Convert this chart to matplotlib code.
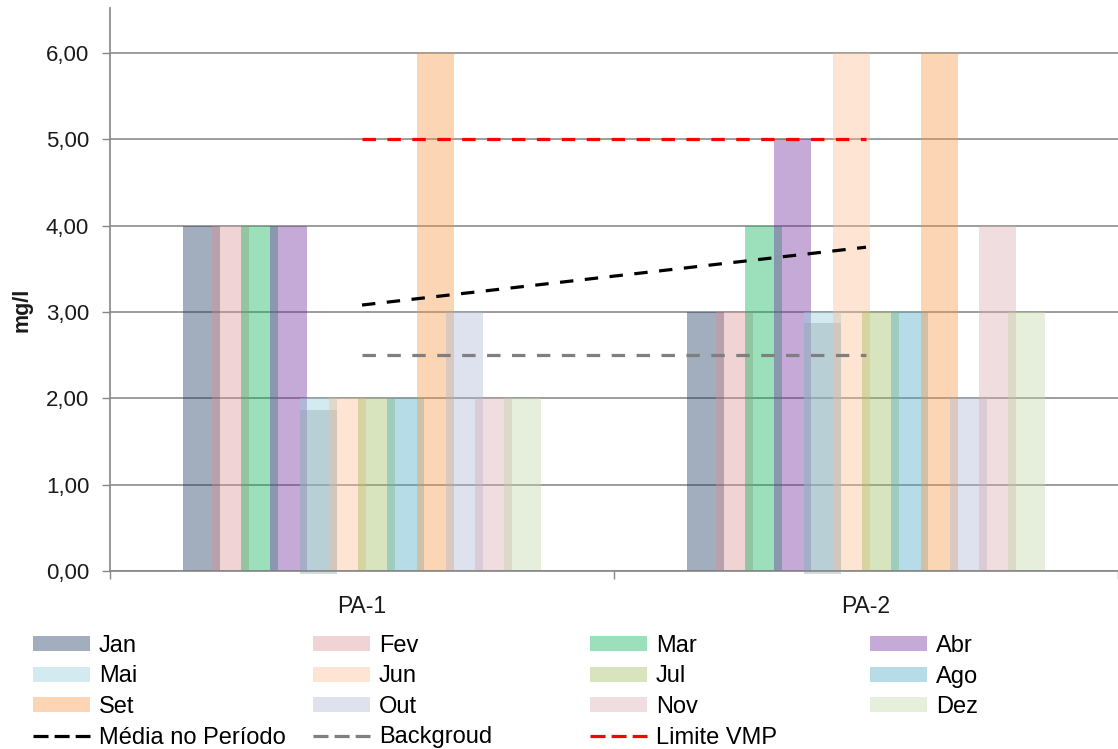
import matplotlib
matplotlib.use("Agg")
import matplotlib.pyplot as plt
from matplotlib.patches import Patch
from matplotlib.lines import Line2D
from matplotlib.ticker import FuncFormatter, FixedLocator
import numpy as np

plt.rcParams['font.family'] = ['Liberation Sans', 'DejaVu Sans']

# ---------------- data ----------------
categories = ["PA-1", "PA-2"]
months = ["Jan", "Fev", "Mar", "Abr", "Mai", "Jun", "Jul", "Ago", "Set", "Out", "Nov", "Dez"]
pa1 = [4, 4, 4, 4, 2, 2, 2, 2, 6, 3, 2, 2]
pa2 = [3, 3, 4, 5, 3, 6, 3, 3, 6, 2, 4, 3]
media = [3.08, 3.75]
background = [2.5, 2.5]
limite_vmp = [5.0, 5.0]
y_ticks = [0, 1, 2, 3, 4, 5, 6]

# displayed (on white) colours of each month
month_colors = ["#a2adbd", "#f0d3d4", "#9be0bb", "#c5aad8", "#d3ebf0", "#fde4d3",
                "#d8e4bd", "#b6dde7", "#fcd5b4", "#dde2ee", "#efdde0", "#e6eedc"]
mai_shadow_display = "#b9cfd6"

ALPHA = 0.4

def to_rgb(h):
    h = h.lstrip('#')
    return np.array([int(h[i:i + 2], 16) for i in (0, 2, 4)], dtype=float)

def true_color(display_hex, under=None):
    d = to_rgb(display_hex)
    u = np.array([255.0, 255.0, 255.0]) if under is None else under
    c = (d - (1 - ALPHA) * u) / ALPHA
    return tuple(np.clip(c, 0, 255) / 255.0)

values = np.array([pa1, pa2], dtype=float)

fig = plt.figure(figsize=(11.18, 7.49), dpi=100)
ax = fig.add_axes([110 / 1118, 178 / 749, 1008 / 1118, 563 / 749])

step = 0.058
width = 0.0733
start = -(11 * step + width) / 2
cat_x = np.arange(len(categories))

for ci, cx in enumerate(cat_x):
    for mi, m in enumerate(months):
        left = cx + start + mi * step
        v = values[ci, mi]
        ax.bar(left, v, width=width, align='edge', color=true_color(month_colors[mi]),
               alpha=ALPHA, linewidth=0, zorder=2)
        if m == "Mai":
            shadow = true_color(mai_shadow_display, under=to_rgb(month_colors[mi]))
            ax.bar(left, v - 0.09, bottom=-0.04, width=width, align='edge',
                   color=shadow, alpha=ALPHA, linewidth=0, zorder=2, clip_on=False)

# lines
dash_lw = 2.3
ax.plot(cat_x, media, color='black', lw=dash_lw, dashes=(4.2, 3.6), zorder=4,
        dash_capstyle='butt')
ax.plot(cat_x, background, color='#7f7f7f', lw=dash_lw, dashes=(4.2, 3.6), zorder=4,
        dash_capstyle='butt')
ax.plot(cat_x, limite_vmp, color='#ff0000', lw=dash_lw, dashes=(4.2, 3.6), zorder=4,
        dash_capstyle='butt')

# axes styling
ax.set_xlim(-0.5, 1.5)
ax.set_ylim(0, 6.52)
ax.yaxis.set_major_locator(FixedLocator(y_ticks))
ax.yaxis.set_major_formatter(FuncFormatter(lambda v, p: f"{v:.2f}".replace('.', ',')))
ax.set_xticks(cat_x)
ax.set_xticklabels(categories)
ax.set_xticks([-0.5, 0.5, 1.5], minor=True)
ax.tick_params(axis='x', which='major', length=0, pad=17, labelsize=16.5, labelcolor='#1a1a1a')
ax.tick_params(axis='x', which='minor', length=6, width=1, color='#868686')
ax.tick_params(axis='y', length=6, width=1, color='#868686', pad=9, labelsize=16,
               labelcolor='#1a1a1a')

ax.grid(axis='y', color='#8c8c8c', lw=1.2, zorder=1)
ax.set_axisbelow(True)
for s in ('top', 'right'):
    ax.spines[s].set_visible(False)
for s in ('left', 'bottom'):
    ax.spines[s].set_color('#868686')
    ax.spines[s].set_linewidth(1.2)

fig.text(22 / 1118, 1 - 310 / 749, "mg/l", rotation=90, fontsize=15.5, fontweight='bold',
         ha='center', va='center', color='#1a1a1a')

# legend: 4 columns, row-major order
patch_handles = [Patch(facecolor=c, edgecolor='none') for c in month_colors]
leg_dash = (4.7, 1.9)
line_handles = [
    Line2D([], [], color='black', lw=2.3, dashes=leg_dash, dash_capstyle='butt'),
    Line2D([], [], color='#7f7f7f', lw=2.3, dashes=leg_dash, dash_capstyle='butt'),
    Line2D([], [], color='#ff0000', lw=2.3, dashes=leg_dash, dash_capstyle='butt'),
]
line_labels = ["Média no Período", "Backgroud", "Limite VMP"]
all_handles = patch_handles + line_handles
all_labels = months + line_labels

col_x = [33, 313, 590, 870]
for col in range(4):
    idx = list(range(col, len(all_handles), 4))
    fig.legend([all_handles[i] for i in idx], [all_labels[i] for i in idx],
               loc='upper left', bbox_to_anchor=(col_x[col] / 1118, 1 - 635 / 749),
               frameon=False, fontsize=17, handlelength=2.4, handleheight=0.6,
               handletextpad=0.4, labelspacing=0.36, borderpad=0, borderaxespad=0)

fig.savefig("out.png", dpi=100, facecolor='white')
